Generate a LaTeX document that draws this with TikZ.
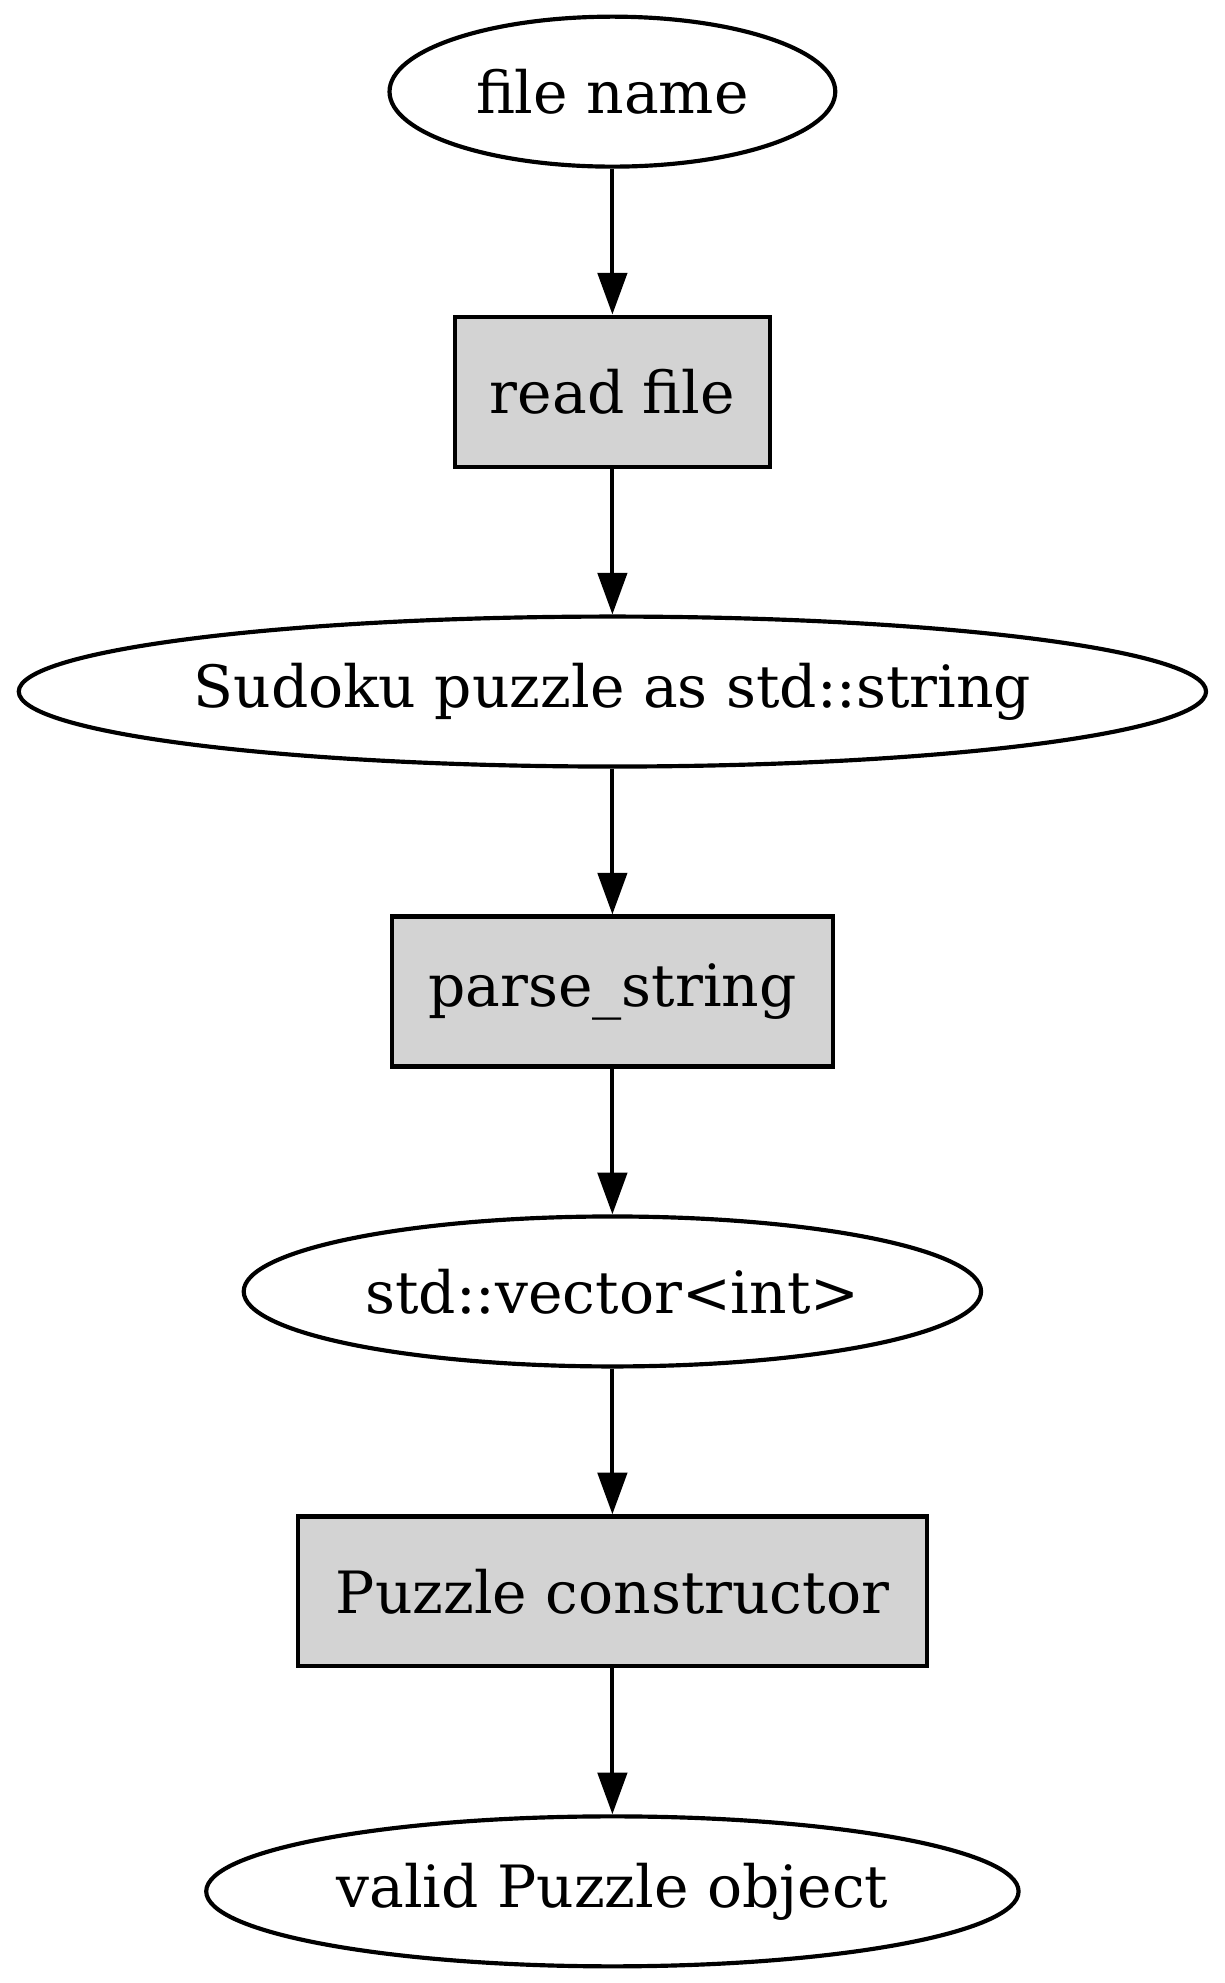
\documentclass[tikz,border=0pt]{standalone}
\usepackage{fontspec}
\setmainfont{DejaVu Serif}
\usetikzlibrary{shapes.geometric,arrows.meta,positioning}
\definecolor{boxgray}{HTML}{D3D3D3}
\begin{document}
\begin{tikzpicture}[line width=1pt,>={Triangle[length=10pt,width=7pt]},node distance=35pt,
		font=\fontsize{14}{17}\selectfont,
		data/.style={ellipse,draw,minimum height=36pt,inner sep=0pt},
		proc/.style={rectangle,draw,fill=boxgray,minimum height=36pt,inner sep=0pt}]
	\useasboundingbox (0,0) rectangle (294pt,-476pt);
	\node[data,minimum width=107pt] (fname) at (147pt,-22pt) {file name};
	\node[proc,minimum width=75.5pt,below=of fname] (read) {read file};
	\node[data,minimum width=285pt,below=of read] (str) {Sudoku puzzle as std::string};
	\node[proc,minimum width=106pt,below=of str] (parse) {parse\_string};
	\node[data,minimum width=177pt,below=of parse] (vec) {std::vector<int>};
	\node[proc,minimum width=151pt,below=of vec] (ctor) {Puzzle constructor};
	\node[data,minimum width=195pt,below=of ctor] (obj) {valid Puzzle object};
	\draw[->] (fname) -- (read);
	\draw[->] (read) -- (str);
	\draw[->] (str) -- (parse);
	\draw[->] (parse) -- (vec);
	\draw[->] (vec) -- (ctor);
	\draw[->] (ctor) -- (obj);
\end{tikzpicture}
\end{document}
